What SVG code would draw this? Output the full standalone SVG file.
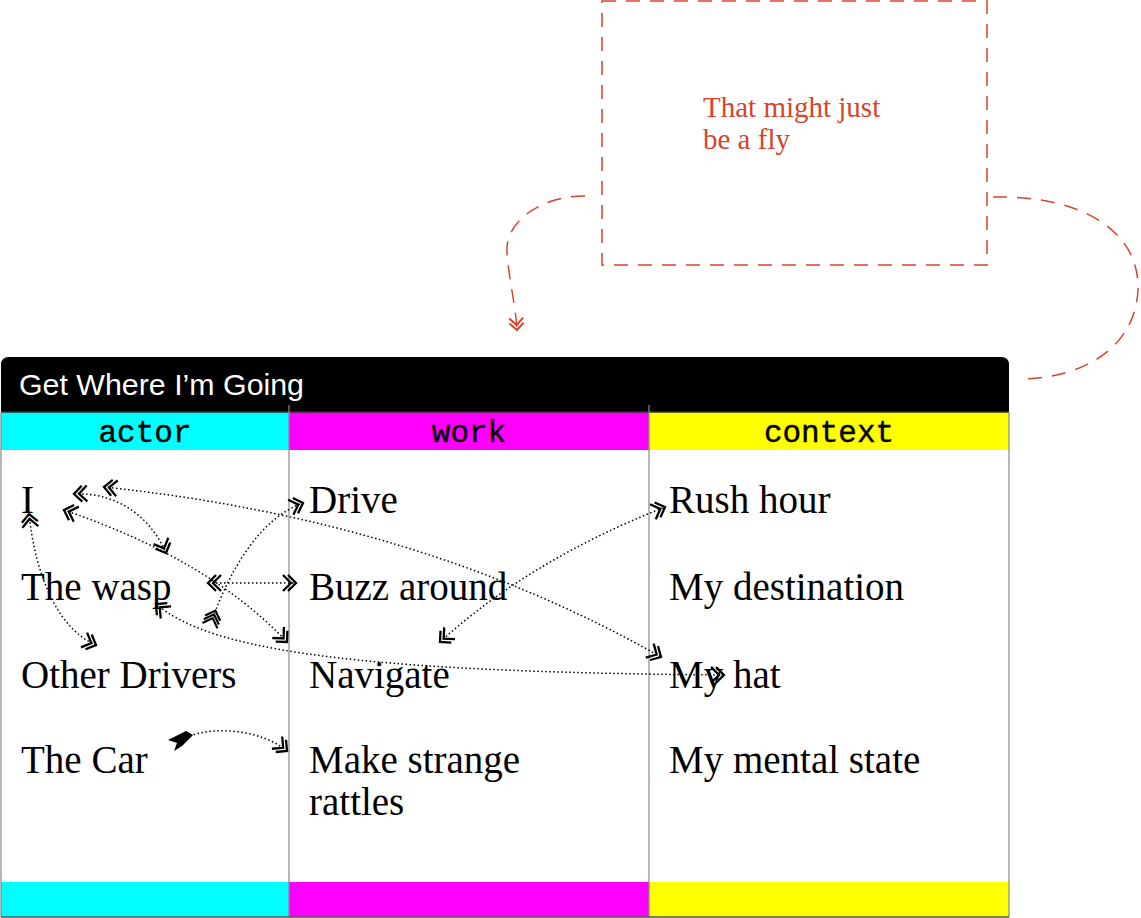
<svg xmlns="http://www.w3.org/2000/svg" width="1141" height="918" viewBox="0 0 1141 918">
<style>
.item{font-family:"Liberation Serif","DejaVu Serif",serif;font-size:39px;fill:#000}
.col{font-family:"Liberation Mono","DejaVu Sans Mono",monospace;font-size:31px;fill:#000;text-anchor:middle;stroke:#000;stroke-width:0.4}
.title{font-family:"Liberation Sans","DejaVu Sans",sans-serif;font-size:29px;fill:#fff}
.note{font-family:"Liberation Serif","DejaVu Serif",serif;font-size:29px;fill:#d5452b}
.dot{fill:none;stroke:#000;stroke-width:1.5;stroke-dasharray:1.5 2.5}
.dash{fill:none;stroke:#d5452b;stroke-width:1.5;stroke-dasharray:14 10}
.div{stroke:#888;stroke-width:1.2}
</style>
<defs>
<marker id="dbl" viewBox="-13 -11 24 22" markerWidth="24" markerHeight="22" refX="8" refY="0" orient="auto-start-reverse" markerUnits="userSpaceOnUse">
<path d="M0,-8 L8,0 L0,8 M-5,-8 L3,0 L-5,8" fill="none" stroke="#000" stroke-width="2.3"/>
</marker>
<marker id="tri" viewBox="-14 -11 26 22" markerWidth="26" markerHeight="22" refX="-2" refY="0" orient="auto" markerUnits="userSpaceOnUse">
<path d="M0,-8 L8,0 L0,8 M-4,-8 L4,0 L-4,8 M-8,-8 L0,0 L-8,8" fill="none" stroke="#000" stroke-width="2.2"/>
</marker>
<marker id="rdbl" viewBox="-12 -10 22 20" markerWidth="22" markerHeight="20" refX="7" refY="0" orient="auto" markerUnits="userSpaceOnUse">
<path d="M0,-7 L7,0 L0,7 M-5,-7 L2,0 L-5,7" fill="none" stroke="#d5452b" stroke-width="2"/>
</marker>
</defs>
<rect width="1141" height="918" fill="#fff"/>

<g id="note">
<rect x="602" y="1" width="385" height="264" fill="none" class="dash" stroke-dasharray="12 8"/>
<text class="note" x="703" y="117">That might just</text>
<text class="note" x="703" y="149">be a fly</text>
</g>

<g id="table">
<path d="M1,365 Q1,357 9,357 L1001,357 Q1009,357 1009,365 L1009,412 L1,412 Z" fill="#000"/>
<text class="title" x="19" y="395" textLength="285" lengthAdjust="spacingAndGlyphs">Get Where I’m Going</text>
<rect x="1" y="412" width="288" height="38" fill="#00ffff"/>
<rect x="289" y="412" width="360" height="38" fill="#ff00ff"/>
<rect x="649" y="412" width="360" height="38" fill="#ffff00"/>
<line x1="1" y1="412" x2="1009" y2="412" stroke="#333" stroke-width="1.5"/>
<text class="col" x="145" y="442">actor</text>
<text class="col" x="469" y="442">work</text>
<text class="col" x="829" y="442">context</text>
<rect x="1" y="882" width="288" height="35" fill="#00ffff"/>
<rect x="289" y="882" width="360" height="35" fill="#ff00ff"/>
<rect x="649" y="882" width="360" height="35" fill="#ffff00"/>
<line class="div" x1="289" y1="405" x2="289" y2="917"/>
<line class="div" x1="649" y1="405" x2="649" y2="917"/>
<line class="div" x1="1" y1="412" x2="1" y2="917"/>
<line class="div" x1="1009" y1="412" x2="1009" y2="917"/>
<line x1="1" y1="917" x2="1009" y2="917" stroke="#555" stroke-width="1.5"/>
</g>

<g id="actor">
<text class="item" x="21" y="513">I</text>
<text class="item" x="21" y="600">The wasp</text>
<text class="item" x="21" y="688">Other Drivers</text>
<text class="item" x="21" y="773">The Car</text>
</g>
<g id="work">
<text class="item" x="309" y="513">Drive</text>
<text class="item" x="309" y="600">Buzz around</text>
<text class="item" x="309" y="688">Navigate</text>
<text class="item" x="309" y="773">Make strange</text>
<text class="item" x="309" y="815">rattles</text>
</g>
<g id="context">
<text class="item" x="669" y="513">Rush hour</text>
<text class="item" x="669" y="600">My destination</text>
<text class="item" x="669" y="688">My hat</text>
<text class="item" x="669" y="773">My mental state</text>
</g>

<g id="connectors">
<path class="dot" d="M29,514 C36,580 60,630 96,645" marker-start="url(#dbl)" marker-end="url(#dbl)"/>
<path class="dot" d="M74,494 C120,492 152,520 166,553" marker-start="url(#dbl)" marker-end="url(#dbl)"/>
<path class="dot" d="M104,487 Q420,520 661,657" marker-start="url(#dbl)" marker-end="url(#dbl)"/>
<path class="dot" d="M64,510 Q210,560 287,642" marker-start="url(#dbl)" marker-end="url(#dbl)"/>
<path class="dot" d="M208,583 L296,583" marker-start="url(#dbl)" marker-end="url(#dbl)"/>
<path class="dot" d="M212,620 C230,570 260,518 303,503" marker-start="url(#tri)" marker-end="url(#dbl)"/>
<path class="dot" d="M440,642 Q530,560 665,507" marker-start="url(#dbl)" marker-end="url(#dbl)"/>
<path class="dot" d="M156,604 C210,650 350,672 724,675" marker-start="url(#dbl)" marker-end="url(#dbl)"/>
<path class="dot" d="M190,736 C215,726 262,730 287,751" marker-end="url(#dbl)"/>
<path d="M168,740 L186,731 L193,735 L182,746 L174,751 L177,743 Z" fill="#000"/>
<path class="dash" d="M585,196 C540,196 505,222 507,252 C509,282 515,300 517,330" marker-end="url(#rdbl)"/>
<path class="dash" d="M993,197 C1080,195 1140,230 1138,290 C1135,350 1080,379 1018,379"/>
</g>
</svg>
